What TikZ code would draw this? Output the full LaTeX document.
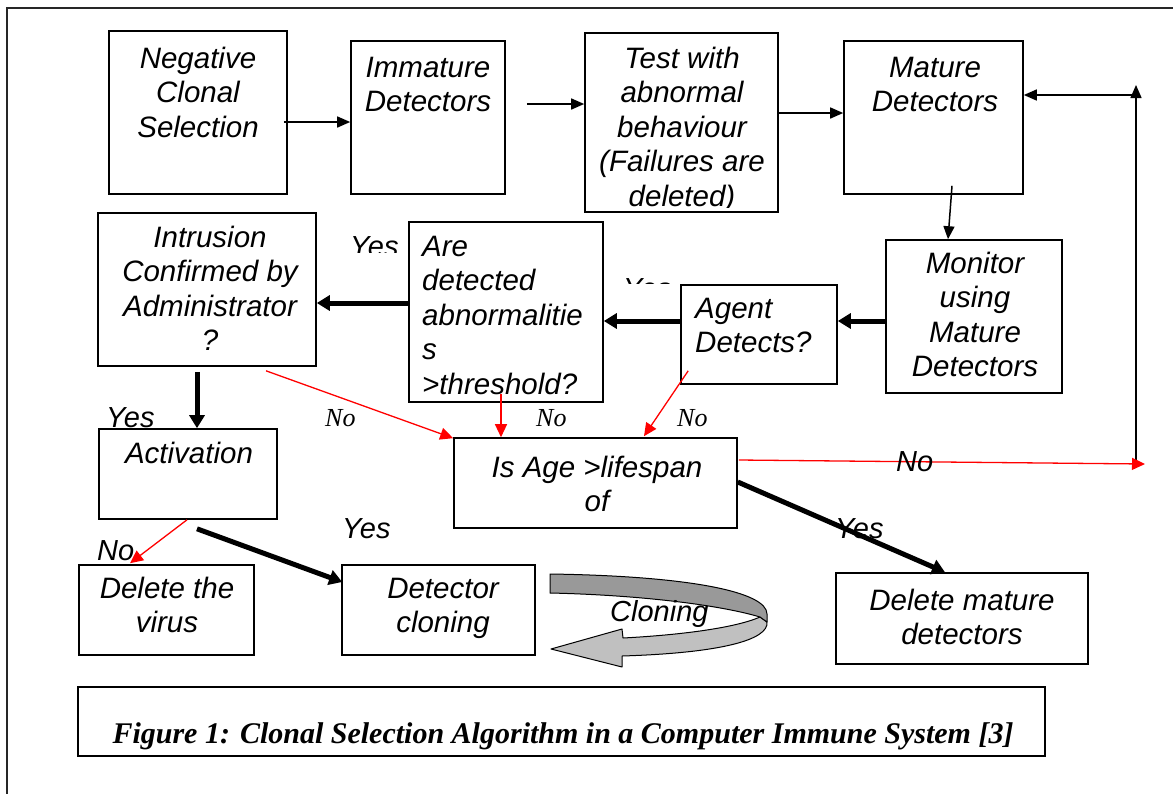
\documentclass[tikz,border=0pt]{standalone}
\usepackage{fontspec}
\setmainfont{Liberation Sans}
\newfontfamily\serifrm{Liberation Serif}
\usetikzlibrary{arrows.meta,calc}
\definecolor{ribdark}{RGB}{153,153,153}
\definecolor{riblight}{RGB}{192,192,192}
\definecolor{arrred}{RGB}{255,0,0}
\newcommand{\ctext}[1]{\begin{tabular}[t]{@{}c@{}}#1\end{tabular}}
\newcommand{\ltext}[1]{\begin{tabular}[t]{@{}l@{}}#1\end{tabular}}
\newcommand{\mkbox}[5]{\node[flowbox, minimum width={#4-#2}, minimum height={#5-#3}] (#1) at ({(#2+#4)/2},{(#3+#5)/2}) {};}
\begin{document}
\begin{tikzpicture}[x=1pt,y=-1pt,
  flowbox/.style={draw, line width=1.6pt, inner sep=0pt, fill=white},
  txt/.style={inner sep=0pt, anchor=base, font=\itshape\fontsize{29.5}{34.5}\selectfont},
  serifno/.style={inner sep=0pt, anchor=base west, font=\serifrm\itshape\fontsize{26}{30}\selectfont},
  lbl/.style={inner sep=0pt, anchor=base west, font=\itshape\fontsize{29}{34}\selectfont},
  thinarrow/.style={line width=1.5pt, -{Triangle[length=13pt,width=11pt]}},
  thickarrow/.style={line width=5pt, -{Triangle[length=13pt,width=15pt]}},
  redarrow/.style={arrred, line width=1.3pt, -{Triangle[length=13pt,width=12pt]}},
  plainline/.style={line width=1.5pt}]
\useasboundingbox (0,0) rectangle (1173,793);
\clip (0,0) rectangle (1173,793);
% outer frame
\draw[black!85, line width=1.6pt] (7,820) -- (7,8) -- (1200,8);

% boxes
\mkbox{neg}{109}{31}{287}{194}
\mkbox{imm}{351}{41}{505}{194}
\mkbox{test}{585}{33}{778}{212}
\mkbox{mat}{844}{41}{1023}{194}
\mkbox{mon}{886}{240}{1062}{393}
\mkbox{agent}{681}{285}{837}{384}
\mkbox{are}{409}{222}{603}{402}
\mkbox{intr}{98}{213}{316}{366}
\mkbox{act}{99}{429}{277}{519}
\mkbox{age}{454}{438}{737}{528}
\mkbox{delv}{79}{565}{254}{655}
\mkbox{clone}{342}{565}{535}{655}
\mkbox{delm}{836}{573}{1088}{664}
\mkbox{cap}{78}{687}{1045}{756}

% box texts
\node[txt] (tneg) at (198,68) {\ctext{Negative\\Clonal\\Selection}};
\node[txt] (timm) at (428,77) {\ctext{Immature\\Detectors}};
\begin{scope}
\clip (586,34) rectangle (777,207);
\node[txt] (ttest) at (682,68) {\ctext{Test with\\abnormal\\behaviour\\(Failures are\\deleted)}};
\end{scope}
\node[txt] (tmat) at (935,77) {\ctext{Mature\\Detectors}};
\node[txt] (tmon) at (975,273) {\ctext{Monitor\\using\\Mature\\Detectors}};
\node[txt, anchor=base west] (tagent) at (695,318) {\ltext{Agent\\Detects?}};
\node[txt] (tintr) at (210,247) {\ctext{Intrusion\\Confirmed by\\Administrator\\?}};
\node[txt, anchor=base west] (tare) at (422,256) {\ltext{Are\\detected\\abnormalitie\\s\\>threshold?}};
\node[txt] (tact) at (189,463) {Activation};
\node[txt] (tage) at (597,477) {\ctext{Is Age >lifespan\\of}};
\node[txt] (tdelv) at (167,598) {\ctext{Delete the\\virus}};
\node[txt] (tclone) at (443,598) {\ctext{Detector\\cloning}};
\node[txt] (tdelm) at (962,610) {\ctext{Delete mature\\detectors}};
\node[inner sep=0pt, anchor=base, font=\serifrm\bfseries\itshape\fontsize{30}{36}\selectfont] (tcap) at (563,743) {Figure 1: Clonal Selection Algorithm in a Computer Immune System [3]};

% cloning ribbon
\path[draw=black, line width=1pt, fill=riblight, line join=round]
  (760,617) -- (767,622) .. controls (769,640) and (720,653) .. (622,656)
  -- (622,667) -- (551,649) -- (622,629) -- (623,638)
  .. controls (680,635) and (735,628) .. (760,617) -- cycle;
\path[draw=black, line width=1pt, fill=ribdark, line join=round]
  (550,574) .. controls (690,576) and (767,592) .. (767,614) -- (767,622) -- (760,617)
  .. controls (720,605) and (640,595) .. (550,593) -- cycle;
\node[lbl] (tcloning) at (610,621) {Cloning};

% thin black connectors
\draw[thinarrow] ($(neg.east)+(-4,9.5)$) coordinate (s1) -- (s1 -| imm.west);
\draw[thinarrow] ($(imm.east)+(21,-13.5)$) coordinate (s2) -- (s2 -| test.west);
\draw[thinarrow] ($(test.east)+(-1,-9.5)$) coordinate (s3) -- (s3 -| mat.west);
\draw[thinarrow] ($(mat.south)+(18.5,-9)$) -- ($(mon.north)+(-26,0)$);
\coordinate (rc) at (1145,464);
\coordinate (vbot) at (1136,463);
\coordinate (vtop) at (1136,85);
\draw[thinarrow] (vbot) -- (vtop);
\draw[thinarrow] (1136,95) coordinate (s4) -- (s4 -| mat.east);

% thick black connectors
\draw[thickarrow] ($(mon.west)+(0,4.5)$) coordinate (s5) -- (s5 -| agent.east);
\draw[thickarrow] ($(agent.west)+(0,-13.5)$) coordinate (s6) -- (s6 -| are.east);
\draw[thickarrow] ($(are.west)+(0,-9)$) coordinate (s7) -- (s7 -| intr.east);
\draw[thickarrow] ($(intr.south)+(-10,5)$) coordinate (s8) -- (s8 |- act.north);
\draw[thickarrow] ($(act.south)+(9,9)$) -- ($(clone.west)+(1,-28)$);
\draw[thickarrow] ($(age.east)+(0,-1)$) -- ($(delm.north)+(-17,0)$);

% red connectors
\draw[redarrow] ($(intr.south)+(59,4)$) -- ($(age.north west)+(0,1)$);
\draw[redarrow] ($(are.south)+(-5,-9)$) coordinate (s9) -- (s9 |- age.north);
\draw[redarrow] ($(agent.south west)+(8,-14)$) -- ($(age.north)+(48.5,-1)$);
\draw[redarrow] ($(age.east)+(1,-23)$) -- (rc);
\draw[redarrow] ($(act.south)+(-1,0)$) -- ($(delv.north)+(-36.5,-1)$);

% labels
\begin{scope}
\clip (330,200) rectangle (405,252);
\node[lbl] (y1) at (350,256) {Yes};
\end{scope}
\begin{scope}
\clip (600,250) rectangle (680,283);
\node[lbl] (y2) at (623,298) {Yes};
\end{scope}
\node[lbl] (y3) at (106,427) {Yes};
\node[lbl] (y4) at (342,538) {Yes};
\node[lbl] (y5) at (835,538) {Yes};
\node[lbl] (n1) at (97,560) {No};
\node[lbl] (n2) at (896,471) {No};
\node[serifno] (n3) at (325,426) {No};
\node[serifno] (n4) at (536,426) {No};
\node[serifno] (n5) at (677,426) {No};
\end{tikzpicture}
\end{document}
